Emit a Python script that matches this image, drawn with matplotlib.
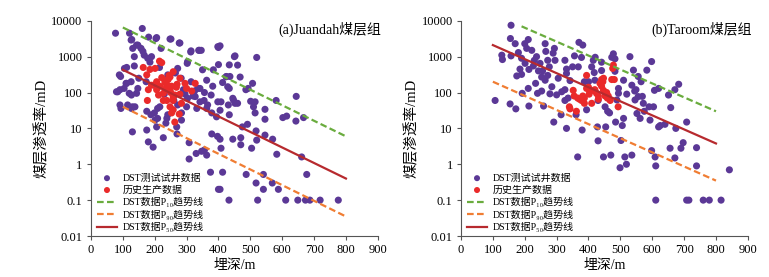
import matplotlib
matplotlib.use("Agg")
import matplotlib.pyplot as plt

plt.rcParams['font.family'] = ['Liberation Serif', 'Noto Sans CJK SC', 'DejaVu Sans']

# (a) Juandah: DST well-test data (depth m, permeability mD)
ja_dst_x = [77, 121, 161, 128, 143, 181, 206, 248, 279, 163, 190, 136, 112, 93, 80, 91, 130, 130, 175, 180,
            195, 227, 270, 308, 330, 308, 375, 413, 400, 405, 433, 487, 518, 523, 541, 541, 569, 588, 611, 649,
            673, 687, 719, 776, 677, 661, 583, 570, 546, 518, 520, 504, 470, 470, 445, 491, 475, 408, 405, 397,
            379, 347, 356, 363, 614, 602, 643, 644, 667, 581, 546, 546, 515, 515, 510, 501, 493, 486, 507, 520,
            452, 460, 468, 436, 400, 400, 405, 338, 346, 313, 302, 384, 350, 363, 382, 413, 425, 434, 447, 452,
            431, 408, 405, 434, 394, 379, 363, 342, 332, 327, 342, 300, 284, 284, 269, 238, 235, 206, 201, 199,
            216, 175, 138, 127, 112, 127, 143, 104, 126, 91,
            126, 147, 157, 131, 167, 136, 178, 204, 220, 251, 277, 314, 340, 398, 105, 89, 110, 84, 120, 147,
            173, 199, 241, 272, 303, 283, 314, 335, 356, 377, 303, 272, 209, 241, 366, 398, 429, 445, 460, 434,
            450, 424, 209, 188, 115, 94, 230, 260, 290, 320, 150, 240, 215, 185, 265, 295, 325, 355]
ja_dst_y = [4500, 4500, 6100, 3000, 2100, 3500, 3400, 3100, 2400, 1400, 1000, 550, 500, 280, 105, 45, 40, 8, 9, 4.2,
            3, 5.5, 7, 4, 2, 1.4, 0.6, 0.6, 0.2, 0.2, 0.1, 0.52, 0.3, 0.1, 0.52, 0.2, 0.3, 0.2, 0.1, 0.1,
            0.1, 0.1, 0.1, 0.1, 0.52, 1.6, 1.9, 5, 6.5, 8.5, 4.7, 2.8, 3.5, 5.5, 5, 13, 11, 2.8, 5, 6,
            7, 2.3, 2.5, 1.8, 22, 20, 16, 78, 20, 60, 34, 18, 27, 55, 40, 57, 130, 120, 180, 950,
            1050, 580, 270, 280, 600, 1800, 2000, 1500, 1500, 1350, 650, 430, 430, 220, 150, 190, 280, 130, 62, 50,
            45, 55, 32, 24, 21, 27, 36, 55, 36, 77, 130, 40, 27, 17, 11, 19, 14, 11, 17, 27,
            40, 30, 40, 36, 180, 85, 95, 130, 200, 120,
            2900, 2100, 1700, 1700, 1100, 1000, 900, 3200, 1700, 3100, 2400, 1450, 1500, 1900, 470, 310, 180, 105, 95, 130,
            200, 160, 310, 470, 720, 250, 200, 130, 100, 85, 69, 45, 36, 24, 45, 55, 145, 69, 50, 590,
            1000, 275, 19, 24, 45, 36, 90, 60, 120, 80, 250, 150, 500, 700, 350, 90, 110, 60]

# (a) Juandah: production history data
ja_prod_x = [164, 185, 201, 215, 222, 175, 258, 248, 279, 295, 327, 316, 300, 232, 238, 216, 206, 190, 180, 227,
             248, 263, 258, 238, 227, 177, 248, 258, 253, 263, 277, 284, 232, 242, 253, 268, 238, 250, 258, 279,
             206, 222, 245, 270, 212, 235]
ja_prod_y = [500, 440, 470, 750, 680, 310, 380, 270, 250, 180, 180, 110, 130, 220, 165, 150, 120, 160, 120, 95,
             120, 85, 60, 60, 60, 60, 40, 33, 27, 15, 25, 50, 190, 230, 150, 140, 120, 100, 75, 90,
             200, 260, 300, 170, 85, 130]

# (b) Taroom: DST well-test data
ta_dst_x = [107, 128, 130, 157, 155, 157, 154, 170, 172, 175, 180, 185, 190, 192, 200, 206, 211, 213, 213, 211,
            222, 227, 230, 234, 240, 248, 253, 256, 259, 264, 266, 272, 272, 277, 279, 289, 293, 295, 291, 305,
            314, 326, 331, 326, 331, 336, 342, 350, 356, 370, 382, 368, 387, 366, 361, 380, 394, 400, 415, 418,
            421, 430, 428, 441, 447, 454, 466, 470, 473, 478, 483, 483, 485, 499, 502, 506, 510, 514, 519, 530,
            536, 541, 546, 552, 556, 562, 565, 569, 572, 583, 593, 598, 598, 604, 609, 611, 607, 611, 620, 625,
            620, 640, 651, 656, 658, 671, 674, 671, 683, 690, 697, 708, 708, 715, 739, 739, 760, 779, 816, 842,
            494, 510, 536, 549, 556, 494, 489, 452, 441, 420, 410, 378, 331, 316, 300, 326, 285, 264, 253, 243,
            237, 201, 190, 520, 575, 460, 430, 590, 545]
ta_dst_y = [60, 1100, 830, 7500, 3200, 1050, 48, 2300, 35, 290, 1300, 450, 900, 95, 2300, 1700, 3000, 440, 42, 130,
            1500, 550, 790, 180, 95, 650, 110, 400, 42, 2300, 1400, 790, 300, 520, 92, 1250, 1700, 790, 15, 250,
            24, 790, 450, 120, 10, 70, 215, 520, 1050, 2500, 2100, 520, 200, 1.6, 24, 9, 33, 200, 790, 360,
            960, 4.5, 11, 700, 1.6, 11, 27, 1.8, 960, 1200, 870, 390, 15, 0.8, 4.6, 12, 19, 1.6, 1, 1000,
            1.8, 420, 62, 26, 77, 19, 200, 78, 50, 420, 17, 730, 2.4, 40, 1.6, 0.9, 115, 0.1, 11, 12,
            130, 13, 85, 2.8, 38, 120, 10, 1.5, 170, 2.8, 4.0, 15, 0.1, 0.1, 2.9, 0.9, 0.1, 0.1, 0.1, 0.7,
            130, 220, 160, 120, 280, 95, 62, 40, 410, 220, 520, 950, 340, 105, 86, 60, 145, 220, 270, 400,
            1000, 650, 320, 90, 30, 30, 60, 40, 110]

# (b) Taroom: production history data
ta_prod_x = [340, 342, 352, 362, 366, 372, 382, 387, 394, 394, 400, 387, 402, 410, 415, 431, 436, 441, 447, 447,
             452, 457, 462, 473, 476, 478, 481, 493, 420, 431, 441, 459, 378, 405, 425, 468, 355, 445]
ta_prod_y = [40, 35, 115, 30, 70, 65, 80, 70, 300, 130, 140, 50, 90, 50, 115, 80, 180, 230, 250, 115,
             80, 100, 80, 230, 470, 580, 230, 40, 120, 65, 150, 70, 60, 110, 95, 60, 80, 200]

# trend lines: (depth start, depth end), (perm start, perm end)
ja_p10 = ([100, 800], [6500, 6])
ja_p90 = ([100, 800], [40, 0.035])
ja_p50 = ([100, 800], [430, 0.4])
ta_p10 = ([190, 800], [7000, 30])
ta_p90 = ([100, 800], [200, 0.35])
ta_p50 = ([100, 800], [2100, 3.8])

x_ticks = [0, 100, 200, 300, 400, 500, 600, 700, 800, 900]
y_ticks = [0.01, 0.1, 1, 10, 100, 1000, 10000]
y_labels = ['0.01', '0.1', '1', '10', '100', '1000', '10000']

purple = '#5b3896'
red = '#ea2a2a'
green = '#6aac3e'
orange = '#f07d33'
darkred = '#b72a2e'

fig = plt.figure(figsize=(7.69, 2.77), dpi=100)
ax1 = fig.add_axes([0.1183, 0.148, 0.373, 0.777])
ax2 = fig.add_axes([0.5995, 0.148, 0.373, 0.777])

panels = [
    (ax1, ja_dst_x, ja_dst_y, ja_prod_x, ja_prod_y, ja_p10, ja_p90, ja_p50, '(a)Juandah煤层组', 1.012),
    (ax2, ta_dst_x, ta_dst_y, ta_prod_x, ta_prod_y, ta_p10, ta_p90, ta_p50, '(b)Taroom煤层组', 1.015),
]

for ax, dx, dy, px, py, p10, p90, p50, title, tx in panels:
    ax.scatter(dx, dy, s=26, color=purple, edgecolors='none', label='DST测试试井数据', zorder=2)
    ax.scatter(px, py, s=26, color=red, edgecolors='none', label='历史生产数据', zorder=3)
    ax.plot(p10[0], p10[1], '--', color=green, lw=1.6, dashes=(3, 1.5), label='DST数据P₁₀趋势线', zorder=4)
    ax.plot(p90[0], p90[1], '--', color=orange, lw=1.6, dashes=(3, 1.5), label='DST数据P₉₀趋势线', zorder=4)
    ax.plot(p50[0], p50[1], '-', color=darkred, lw=1.6, label='DST数据P₅₀趋势线', zorder=4)

    ax.set_yscale('log')
    ax.set_xlim(0, 900)
    ax.set_ylim(0.01, 10000)
    ax.set_xticks(x_ticks)
    ax.set_yticks(y_ticks)
    ax.set_yticklabels(y_labels)
    ax.minorticks_off()
    ax.tick_params(labelsize=9, length=3, color='#555555', direction='out', pad=3)
    for s in ['top', 'right']:
        ax.spines[s].set_visible(False)
    for s in ['left', 'bottom']:
        ax.spines[s].set_color('#555555')

    ax.set_xlabel('埋深/m', fontsize=10, labelpad=2)
    ax.set_ylabel('煤层渗透率/mD', fontsize=10.5, labelpad=2)
    ax.text(tx, 0.961, title, transform=ax.transAxes, ha='right', va='center', fontsize=10)

    ax.legend(loc='lower left', bbox_to_anchor=(0.0, -0.01), frameon=False, fontsize=7.2,
              handlelength=2.0, handletextpad=0.6, labelspacing=0.25, borderaxespad=0.2,
              markerscale=0.85)

fig.savefig('out.png', dpi=100)
